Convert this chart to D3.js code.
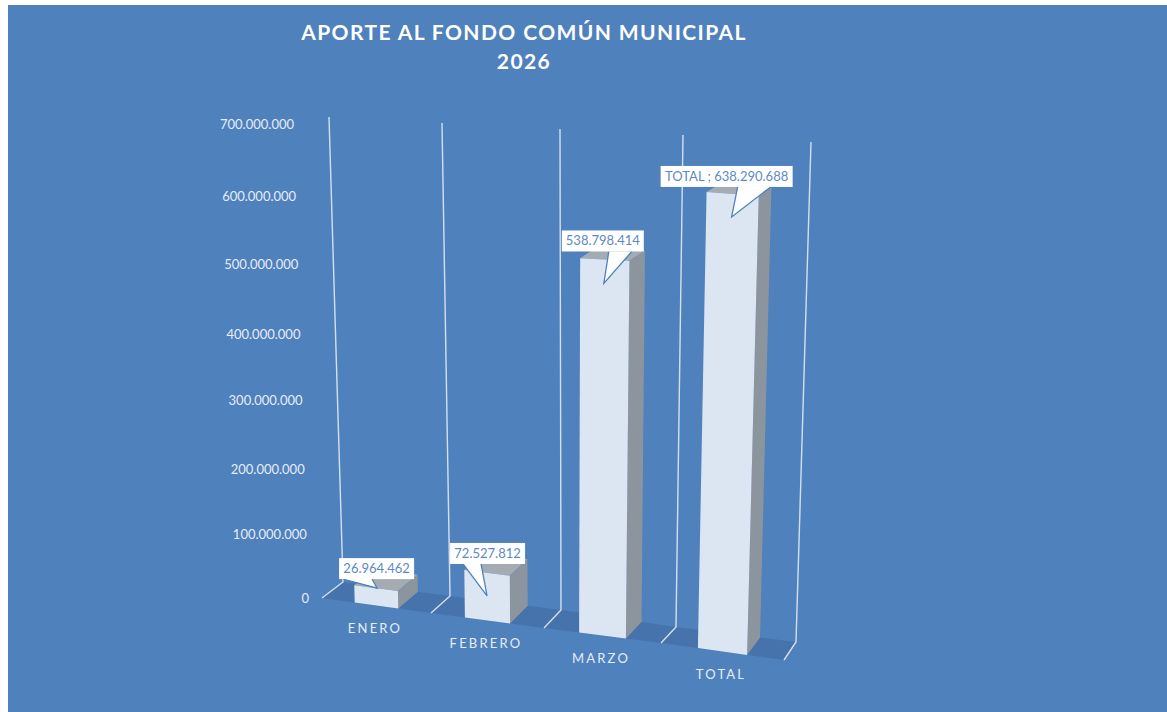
<!DOCTYPE html>
<html>
<head>
<meta charset="utf-8">
<script src="https://d3js.org/d3.v7.min.js"></script>
<style>
  html, body { margin: 0; padding: 0; background: #fff; overflow: hidden; }
  text { font-family: Lato, "Open Sans", sans-serif; }
</style>
</head>
<body>
<div id="chart"><svg></svg></div>
<script>
// data
const categories = ["ENERO", "FEBRERO", "MARZO", "TOTAL"]
const values = [26964462, 72527812, 538798414, 638290688]
const valueLabels = ["26.964.462", "72.527.812", "538.798.414", "TOTAL ; 638.290.688"]
const tickValues = [0, 100000000, 200000000, 300000000, 400000000, 500000000, 600000000, 700000000]
const titleLines = ["APORTE AL FONDO COMÚN MUNICIPAL", "2026"]

// page
const width = 1167
const height = 712

const svg = d3.select("#chart svg")
  .attr("width", width)
  .attr("height", height)
  .style("display", "block")

svg.append("rect")
  .attr("x", 8)
  .attr("y", 5)
  .attr("width", width - 8)
  .attr("height", height - 5)
  .attr("fill", "#4f81bd")

// fake 3D: one scale per edge of the chart box, walls are at boundaries 0..4
const wallDomain = [0, 1, 2, 3, 4]
const backX = d3.scaleLinear().domain(wallDomain).range([343, 450, 561, 676, 796])
const backY = d3.scaleLinear().domain(wallDomain).range([582, 596, 610, 627, 642])
const frontX = d3.scaleLinear().domain(wallDomain).range([322, 431, 544, 661, 784])
const frontY = d3.scaleLinear().domain(wallDomain).range([598, 613, 628, 643, 660])
const topX = d3.scaleLinear().domain(wallDomain).range([329, 442, 560, 683, 811])
const topY = d3.scaleLinear().domain(wallDomain).range([117, 123, 129, 135, 142])

// height is a bit squeezed at the bottom by the perspective
const rise = d3.scaleLinear().domain(tickValues)
  .range([0, 0.135, 0.272, 0.416, 0.557, 0.703, 0.848, 1])

const band = d3.scaleBand().domain(categories).range([0, 4])
  .paddingInner(0.6).paddingOuter(0.3)

// c = position along x, d = depth (0 back, 1 front), v = value
function project(c, d, v) {
  const stretch = rise(v) * (1 + 0.018 * d)
  const bx = backX(c) + (frontX(c) - backX(c)) * d
  const by = backY(c) + (frontY(c) - backY(c)) * d
  return [
    bx + (topX(c) - backX(c)) * stretch,
    by + (topY(c) - backY(c)) * stretch
  ]
}

const poly = pts => pts.map(p => p.join(",")).join(" ")

// floor
svg.append("polygon")
  .attr("points", poly([project(0, 0, 0), project(1, 0, 0), project(2, 0, 0), project(3, 0, 0), project(4, 0, 0),
    project(4, 1, 0), project(3, 1, 0), project(2, 1, 0), project(1, 1, 0), project(0, 1, 0)]))
  .attr("fill", "#4673ab")

// wall lines, L shape from the front of the floor up to the top
svg.append("g")
  .selectAll("polyline")
  .data(wallDomain)
  .join("polyline")
  .attr("points", d => poly([project(d, 1, 0), project(d, 0, 0), project(d, 0, 700000000)]))
  .attr("fill", "none")
  .attr("stroke", "#d5e0ee")
  .attr("stroke-width", 1.4)

// bars
const bars = svg.append("g")
  .selectAll("g")
  .data(categories)
  .join("g")

const c0 = d => band(d)
const c1 = d => band(d) + band.bandwidth()
const val = d => values[categories.indexOf(d)]

// top face
bars.append("polygon")
  .attr("points", d => poly([project(c0(d), 1, val(d)), project(c1(d), 1, val(d)), project(c1(d), 0, val(d)), project(c0(d), 0, val(d))]))
  .attr("fill", "#a4abb3")
// side face
bars.append("polygon")
  .attr("points", d => poly([project(c1(d), 1, 0), project(c1(d), 0, 0), project(c1(d), 0, val(d)), project(c1(d), 1, val(d))]))
  .attr("fill", "#8c959e")
// front face
bars.append("polygon")
  .attr("points", d => poly([project(c0(d), 1, 0), project(c1(d), 1, 0), project(c1(d), 1, val(d)), project(c0(d), 1, val(d))]))
  .attr("fill", "#dce6f2")

// y axis, the label edge leans with the wall
const labelRight = d3.scaleLinear().domain([0, 700000000]).range([309, 294])
const fmt = d => d3.format(",")(d).replace(/,/g, ".")

const yAxis = svg.append("g")
  .call(d3.axisLeft(d3.scaleLinear().domain(tickValues).range(tickValues.map(v => 598 - 474 * rise(v))))
    .tickValues(tickValues)
    .tickFormat(fmt)
    .tickSize(0))
yAxis.select(".domain").remove()
yAxis.selectAll("text")
  .attr("x", d => labelRight(d))
  .attr("fill", "#e6edf6")
  .style("font-size", "13px")

// category labels
svg.append("g")
  .selectAll("text")
  .data(categories)
  .join("text")
  .attr("x", d => project(band(d) + band.bandwidth() / 2, 1, 0)[0] - 1.5)
  .attr("y", d => project(band(d) + band.bandwidth() / 2, 1, 0)[1] + 27)
  .attr("text-anchor", "middle")
  .attr("fill", "#e6edf6")
  .style("font-size", "13px")
  .style("letter-spacing", "2.2px")
  .text(d => d)

// callouts, everything relative to the middle of the bar's top front edge
const boxLeft = [-37, -37, -43, -72]
const boxRight = [38, 38, 39, 60]
const boxTop = [-30, -30, -29, -28]
const tipX = [1, 0, -1, -1]
const tipY = [0, 23, 24, 23]
const baseLeft = [-33, -24, 4, 5]
const baseRight = [-4, -6, 27, 38]
const boxH = 21

const callouts = svg.append("g")
  .selectAll("g")
  .data(categories)
  .join("g")
  .attr("transform", d => {
    const p = project(band(d) + band.bandwidth() / 2, 1, val(d))
    return `translate(${p[0]},${p[1]})`
  })

callouts.append("polyline")
  .attr("points", (d, i) => poly([[baseLeft[i], boxTop[i] + boxH], [tipX[i], tipY[i]], [baseRight[i], boxTop[i] + boxH]]))
  .attr("fill", "#fff")
  .attr("stroke", "#4f81bd")
  .attr("stroke-width", 1.3)

callouts.append("rect")
  .attr("x", (d, i) => boxLeft[i])
  .attr("y", (d, i) => boxTop[i])
  .attr("width", (d, i) => boxRight[i] - boxLeft[i])
  .attr("height", boxH)
  .attr("fill", "#fff")

callouts.append("text")
  .attr("x", (d, i) => (boxLeft[i] + boxRight[i]) / 2)
  .attr("y", (d, i) => boxTop[i] + 15)
  .attr("text-anchor", "middle")
  .attr("fill", "#5b8ac3")
  .style("font-size", "13px")
  .text((d, i) => valueLabels[i])

// title
svg.append("g")
  .selectAll("text")
  .data(titleLines)
  .join("text")
  .attr("x", 524)
  .attr("y", (d, i) => 40 + i * 29)
  .attr("text-anchor", "middle")
  .attr("fill", "#fff")
  .style("font-size", "21px")
  .style("font-weight", "bold")
  .style("letter-spacing", "1.4px")
  .text(d => d)
</script>
</body>
</html>
